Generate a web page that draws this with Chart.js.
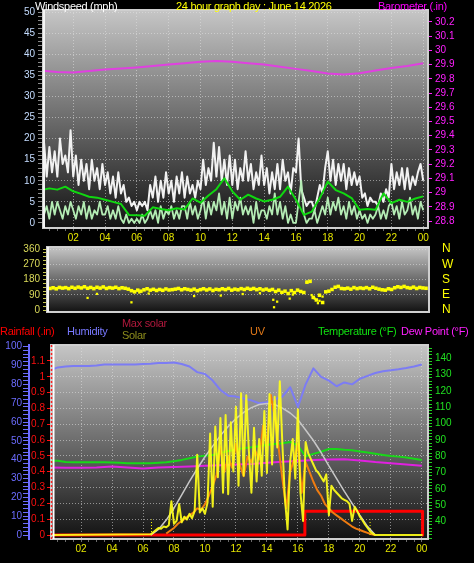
<!DOCTYPE html>
<html>
<head>
<meta charset="utf-8">
<script src="https://cdn.jsdelivr.net/npm/chart.js@4.4.1/dist/chart.umd.min.js"></script>
<style>
  html, body { margin: 0; padding: 0; background: #000; }
  #wrap { position: relative; width: 474px; height: 563px; overflow: hidden; background: #000;
          font-family: 'Liberation Sans', Arial, sans-serif; }
  #wrap canvas { position: absolute; left: 0; }
  .lbl { position: absolute; font-size: 11px; line-height: 12px; white-space: nowrap; z-index: 2; letter-spacing: -0.3px; }
</style>
</head>
<body>
<div id="wrap">
  <canvas id="windChart" width="474" height="245" style="top:0"></canvas>
  <canvas id="dirChart" width="474" height="85" style="top:236px"></canvas>
  <canvas id="sunChart" width="474" height="233" style="top:330px"></canvas>

  <span class="lbl" style="left:35px;top:0;color:#fff">Windspeed (mph)</span>
  <span class="lbl" style="left:176px;top:0;color:#ffff00">24 hour graph day : June 14 2026</span>
  <span class="lbl" style="left:378px;top:0;color:#ff00ff">Barometer (.in)</span>

  <span class="lbl" style="left:0;top:325px;color:#ff0000">Rainfall (.in)</span>
  <span class="lbl" style="left:67px;top:325px;color:#7878ff">Humidity</span>
  <span class="lbl" style="left:122px;top:317px;color:#b0183c">Max solar</span>
  <span class="lbl" style="left:122px;top:329px;color:#8c8c1c">Solar</span>
  <span class="lbl" style="left:250px;top:325px;color:#e07818">UV</span>
  <span class="lbl" style="left:318px;top:325px;color:#10e010">Temperature (°F)</span>
  <span class="lbl" style="left:401px;top:325px;color:#ff20ff">Dew Point (°F)</span>
</div>

<script>
// ---- data ----

// wind, one reading every 10 min from 00:00 (mph)
const gustMph = [
  13, 19, 11, 18, 12, 17,  11, 20, 14, 16, 12, 22,  11, 16, 9, 15, 10, 14,
  8, 15, 10, 13, 8, 14,  9, 12, 7, 11, 6, 12,  7, 9, 5, 6, 4, 5,
  3, 5, 4, 5, 3, 9,  6, 11, 5, 10, 6, 12,  7, 10, 5, 11, 7, 12,
  6, 11, 7, 9, 6, 10,  8, 15, 9, 13, 10, 19,  11, 18, 10, 15, 9, 16,
  9, 15, 8, 13, 10, 17,  10, 14, 8, 12, 9, 16,  9, 13, 7, 12, 8, 14,
  8, 15, 10, 12, 7, 13,  12, 20, 8, 6, 4, 5,  5, 3, 6, 9, 7, 13,
  17, 10, 15, 9, 14, 10,  14, 8, 13, 9, 12, 9,  11, 6, 7, 4, 6, 5,
  5, 4, 7, 5, 8, 6,  14, 8, 12, 9, 13, 8,  13, 8, 11, 9, 12, 14,  10
];
const windMph = [
  5, 2, 4, 1, 5, 2,  5, 3, 1, 4, 2, 5,  3, 1, 4, 2, 5, 1,
  4, 1, 3, 2, 5, 2,  2, 4, 1, 3, 1, 4,  1, 0, 2, 0, 1, 0,
  1, 0, 2, 0, 1, 3,  1, 3, 0, 4, 1, 3,  2, 4, 1, 3, 1, 4,
  4, 1, 5, 2, 4, 1,  3, 6, 1, 5, 2, 5,  3, 7, 2, 5, 1, 6,
  1, 5, 3, 6, 2, 4,  2, 4, 0, 5, 1, 3,  3, 1, 4, 2, 7, 2,
  5, 1, 4, 0, 2, 0,  0, 5, 10, 2, 0, 1,  1, 3, 0, 2, 4, 2,
  6, 2, 5, 3, 6, 2,  4, 1, 5, 2, 4, 1,  3, 1, 2, 0, 2, 1,
  2, 4, 1, 3, 1, 4,  5, 2, 4, 1, 5, 2,  3, 6, 2, 4, 1, 5,  3
];
// average wind, every 30 min
const avgMph = [
  7.8, 8.2, 7.9, 8.6, 7.5, 6.9, 6.2, 6.0, 5.5, 5.0, 4.5, 1.9, 1.8, 1.7, 3.7, 3.3,
  3.0, 3.5, 3.2, 5.8, 4.8, 6.5, 8.0, 10.6, 7.5, 5.5, 6.7, 5.8, 5.1, 5.5, 6.2, 8.6,
  5.5, 1.9, 2.7, 5.9, 9.8, 7.8, 7.0, 5.9, 3.1, 3.3, 3.1, 7.0, 4.7, 5.5, 5.0, 5.8, 6.3
];
// barometer, hourly (in)
const baroIn = [
  29.857, 29.848, 29.845, 29.855, 29.865, 29.872, 29.88, 29.89, 29.9, 29.91, 29.92, 29.925,
  29.92, 29.91, 29.9, 29.885, 29.87, 29.855, 29.838, 29.83, 29.84, 29.858, 29.876, 29.89, 29.91
];

// wind direction every 12 min (deg) plus stray readings [hour, deg]
const dirDeg = [
  128, 132, 126, 134, 130,  133, 127, 135, 129, 136,  131, 138, 129, 134, 127,
  135, 130, 137, 128, 133,  130, 135, 127, 132, 129,  124, 115, 108, 118, 112,
  120, 126, 118, 123, 116,  122, 117, 125, 119, 121,  124, 128, 120, 126, 122,
  118, 124, 115, 121, 126,  119, 125, 116, 123, 120,  126, 121, 128, 118, 124,
  120, 127, 122, 129, 123,  128, 121, 126, 119, 124,  117, 122, 110, 118, 105,
  112, 98, 115, 104, 118,  110, 104, 165, 170, 75,  60, 88, 45, 108, 112,
  122, 135, 140, 128, 126,  130, 124, 133, 127, 131,  128, 133, 126, 135, 129,
  124, 120, 118, 126, 122,  132, 138, 134, 140, 133,  130, 136, 128, 134, 131, 129
];
const dirStrays = [
  [2.4, 72], [3.0, 96], [5.2, 46], [5.7, 104], [6.3, 98], [9.2, 83], [10.9, 86],
  [12.3, 95], [13.4, 100], [14.25, 61], [14.3, 17], [14.5, 50], [14.8, 105],
  [15.3, 68], [15.5, 92], [16.4, 167], [16.7, 89], [16.9, 68], [17.1, 41], [17.2, 55], [17.4, 80]
];

// humidity (%) and temperature (F) every 30 min, dew point hourly
const humidityPct = [
  87.5, 89, 89.5, 89.8, 89.8, 89.8, 90, 90.6, 90.6, 90.6, 90.6, 90.6, 90.8, 91, 91.3, 91.3,
  91.6, 90.8, 89.5, 86.5, 85.5, 82, 77, 74, 73.5, 72.5, 71.5, 70, 70.5, 72, 73.5, 78.5,
  68, 80, 88.5, 84, 82, 79, 81, 80, 83, 84.5, 86, 87, 87.5, 88, 88.7, 89.5, 90.5
];
const tempF = [
  77.3, 77.3, 76.5, 76.3, 76.3, 76.3, 76.3, 76.3, 76.2, 76, 75.7, 75.7, 75.7, 75.8, 76, 76.3,
  77, 77.8, 78.8, 79.8, 80.3, 80.8, 82, 83.2, 84.2, 85, 85.5, 86.2, 87, 87.5, 88, 88.8,
  86.5, 80, 81.5, 82.8, 84.5, 84.5, 84, 83.7, 83, 82.3, 81.5, 80.8, 80.2, 79.8, 79.2, 78.5, 77.8
];
const dewF = [
  73.2, 73, 73, 73.2, 73.8, 73.2, 72.6, 73.2, 73.5, 73.8, 74.2, 74.5, 75,
  75.3, 76, 76.6, 77.2, 77.8, 78, 78.2, 77.5, 76.5, 75.8, 75, 74.2
];
// rainfall total (in)
const rainHours = [0, 16.45, 16.45, 24.05, 24.05];
const rainIn = [0, 0, 0.15, 0.15, 0];

// max solar every 30 min from 06:30 (W/m2)
const maxSolarW = [
  0, 40, 106, 190, 285, 380, 470, 555, 630, 705, 770, 825, 870, 903, 925,
  933, 925, 900, 865, 818, 745, 670, 585, 490, 400, 310, 225, 140, 60, 0
];
// solar every 10 min from 06:30 (W/m2), zero outside
const solarW = [
  5, 20, 35, 50, 45, 60, 55, 70, 240, 80, 100, 220, 90, 130, 110, 150, 120, 170, 570, 160,
  190, 150, 230, 720, 200, 770, 410, 830, 300, 850, 290, 800, 450, 910, 350, 1005, 420, 990, 600, 300,
  760, 380, 680, 420, 880, 440, 1000, 500, 980, 620, 1090, 640, 250, 40, 520, 680, 400, 890, 300, 100,
  660, 580, 540, 500, 460, 440, 410, 380, 430, 140, 350, 320, 300, 280, 260, 250, 240, 220, 100, 200,
  170, 130, 105, 75, 50, 25, 10, 0
];
// UV index every 15 min from 07:30
const uvIndex = [
  0.1, 0.3, 0.5, 0.8, 1.0, 1.2, 1.4, 1.6, 1.9, 1.8, 2.2, 2.8, 3.5, 4.3, 6.3, 4.5, 5.6, 4.8, 6.5, 5.0,
  4.2, 5.6, 5.2, 6.0, 5.4, 7.8, 6.5, 10.0, 8.5, 6.3, 4.0, 1.9, 4.5, 5.4, 6.5, 3.0, 5.2, 4.5, 3.8, 3.2,
  2.8, 2.2, 1.9, 1.6, 1.4, 1.2, 1.0, 0.8, 0.6, 0.45, 0.35, 0.25, 0.15, 0.05, 0
];
// sunrise / sunset markers (hour) and their height (W/m2)
const sunMarks = [6.55, 20.66];
const sunMarkW = 110;

// ---- helpers ----
const GRID = 'rgba(225,225,225,0.55)';

Chart.defaults.font.family = "'Liberation Sans', Arial, sans-serif";
Chart.defaults.font.size = 10;
Chart.defaults.animation = false;
Chart.defaults.responsive = false;
Chart.defaults.events = [];
Chart.defaults.plugins.legend.display = false;
Chart.defaults.plugins.tooltip.enabled = false;
Chart.defaults.elements.point.radius = 0;
Chart.defaults.elements.line.tension = 0;
Chart.defaults.elements.line.borderJoinStyle = 'round';

const range = (from, to, step) => {
  const out = [];
  for (let v = from; v <= to + 1e-9; v += step) out.push(Math.round(v * 1000) / 1000);
  return out;
};
const series = (values, start, step) => values.map((y, i) => ({ x: start + i * step, y }));
const pairs = (xs, ys) => xs.map((x, i) => ({ x, y: ys[i] }));
const isMult = (v, m) => Math.abs(v / m - Math.round(v / m)) < 1e-6;
const fixedTicks = values => scale => { scale.ticks = values.map(value => ({ value })); };
const fixedWidth = w => scale => { scale.width = w; };
const fixedHeight = h => scale => { scale.height = h; };
const hourLabel = v => (isMult(v, 2) && v > 0) ? String(v % 24).padStart(2, '0') : '';

// gradient plot background + light frame
const panelFrame = {
  id: 'panelFrame',
  beforeDraw(chart) {
    const { ctx, chartArea: a } = chart;
    const g = ctx.createLinearGradient(0, a.top, 0, a.bottom);
    g.addColorStop(0, '#c6c6c6');
    g.addColorStop(1, '#121212');
    ctx.save();
    ctx.fillStyle = g;
    ctx.fillRect(a.left, a.top, a.width, a.height);
    ctx.restore();
  },
  afterDatasetsDraw(chart, args, opts) {
    const { ctx, chartArea: a } = chart;
    ctx.save();
    ctx.strokeStyle = '#cfcfcf';
    ctx.lineWidth = 2;
    ctx.strokeRect(a.left, a.top, a.width, a.height);
    if (opts.rainEdge) {
      ctx.strokeStyle = '#ffffff';
      ctx.beginPath(); ctx.moveTo(a.left + 2.5, a.top); ctx.lineTo(a.left + 2.5, a.bottom); ctx.stroke();
      ctx.strokeStyle = '#ff2020';
      ctx.lineWidth = 1.5;
      ctx.setLineDash([2, 2]);
      ctx.beginPath(); ctx.moveTo(a.left + 0.5, a.top); ctx.lineTo(a.left + 0.5, a.bottom); ctx.stroke();
    } else {
      ctx.strokeStyle = '#f4f4f4';
      ctx.beginPath(); ctx.moveTo(a.left + 1, a.top); ctx.lineTo(a.left + 1, a.bottom); ctx.stroke();
    }
    ctx.restore();
  }
};

function hourAxis(min, max, height) {
  return {
    type: 'linear', min, max,
    afterBuildTicks: fixedTicks(range(0.5, 24, 0.5)),
    afterFit: fixedHeight(height),
    ticks: { autoSkip: false, maxRotation: 0, color: '#e6e600', padding: 1, callback: hourLabel },
    grid: {
      color: c => (c.tick && isMult(c.tick.value, 2)) ? GRID : 'transparent',
      tickColor: '#6a6a6a', tickLength: 3
    },
    border: { display: false, dash: [1, 2] }
  };
}

// ---- windspeed / barometer ----
new Chart(document.getElementById('windChart'), {
  type: 'line',
  data: {
    datasets: [
      { data: series(avgMph, 0, 0.5), borderColor: '#10d810', borderWidth: 2, yAxisID: 'y' },
      { data: series(windMph, 0, 1 / 6), borderColor: '#b4ecb4', borderWidth: 1.8, yAxisID: 'y' },
      { data: series(gustMph, 0, 1 / 6), borderColor: '#f2f2f2', borderWidth: 2, yAxisID: 'y' },
      { data: series(baroIn, 0, 1), borderColor: '#e040e0', borderWidth: 2, yAxisID: 'baro' }
    ]
  },
  options: {
    layout: { padding: { top: 10 } },
    scales: {
      x: hourAxis(0.1, 24.3, 17),
      y: {
        position: 'left', min: -1.2, max: 50.5,
        afterBuildTicks: fixedTicks(range(0, 50, 1)),
        afterFit: fixedWidth(43),
        ticks: { autoSkip: false, color: '#c4dcff', padding: 3, callback: v => isMult(v, 5) ? String(v) : '' },
        grid: {
          color: c => (c.tick && isMult(c.tick.value, 5) && c.tick.value > 0) ? GRID : 'transparent',
          tickColor: '#8a8a8a', tickLength: 5
        },
        border: { display: false, dash: [1, 2] }
      },
      baro: {
        position: 'right', min: 28.751, max: 30.284,
        afterBuildTicks: fixedTicks(range(28.8, 30.2, 0.1)),
        afterFit: fixedWidth(46),
        ticks: { autoSkip: false, color: '#ff20ff', padding: 3, callback: v => String(Math.round(v * 10) / 10) },
        grid: { drawOnChartArea: false, tickColor: '#ff20ff', tickLength: 4 },
        border: { color: '#ff20ff', width: 1 }
      }
    },
    plugins: { panelFrame: {} }
  },
  plugins: [panelFrame]
});

// ---- wind direction ----
new Chart(document.getElementById('dirChart'), {
  type: 'scatter',
  data: {
    datasets: [
      { data: series(dirDeg, 0, 0.2), pointStyle: 'rect', pointRadius: 2.5, borderWidth: 0,
        backgroundColor: '#ffff00', yAxisID: 'y' },
      { data: dirStrays.map(([x, y]) => ({ x, y })), pointStyle: 'rect', pointRadius: 1.6, borderWidth: 0,
        backgroundColor: '#ffff00', yAxisID: 'y' }
    ]
  },
  options: {
    layout: { padding: { top: 11, bottom: 5 } },
    scales: {
      x: { type: 'linear', display: false, min: -0.19, max: 24.19 },
      y: {
        position: 'left', min: -11.1, max: 372.8,
        afterBuildTicks: fixedTicks(range(0, 360, 22.5)),
        afterFit: fixedWidth(47),
        ticks: { autoSkip: false, color: '#dada5a', padding: 3, callback: v => isMult(v, 90) ? String(v) : '' },
        grid: {
          color: c => (c.tick && isMult(c.tick.value, 90) && c.tick.value > 0) ? GRID : 'transparent',
          tickColor: '#c8c850', tickLength: 4
        },
        border: { display: false, dash: [1, 2] }
      },
      compass: {
        position: 'right', min: -11.1, max: 372.8,
        afterBuildTicks: fixedTicks([0, 90, 180, 270, 360]),
        afterFit: fixedWidth(45),
        ticks: { autoSkip: false, color: '#ffff00', padding: 0, font: { size: 12 },
                 callback: v => ({ 0: 'N', 90: 'E', 180: 'S', 270: 'W', 360: 'N' })[v] },
        grid: { drawOnChartArea: false, tickLength: 13, tickColor: 'transparent' },
        border: { display: false }
      }
    },
    plugins: { panelFrame: {} }
  },
  plugins: [panelFrame]
});

// ---- rain / humidity / solar / uv / temperature ----
const solarLine = [{ x: 0, y: 0 }, ...series(solarW, 6.5, 1 / 6), { x: 24.05, y: 0 }];
const sunMarkSets = sunMarks.map(h => ({
  data: [{ x: h, y: 0 }, { x: h, y: sunMarkW }], borderColor: '#ffff00', borderWidth: 1,
  borderDash: [1, 2], yAxisID: 'solar'
}));

new Chart(document.getElementById('sunChart'), {
  type: 'line',
  data: {
    datasets: [
      ...sunMarkSets,
      { data: solarLine, borderColor: 'rgba(255,255,24,0.92)', borderWidth: 2, yAxisID: 'solar' },
      { data: series(uvIndex, 7.5, 0.25), borderColor: '#f07c10', borderWidth: 2, yAxisID: 'uv' },
      { data: series(maxSolarW, 6.5, 0.5), borderColor: '#c8c8c8', borderWidth: 1.5, yAxisID: 'solar' },
      { data: series(tempF, 0, 0.5), borderColor: '#18d818', borderWidth: 2, yAxisID: 'temp' },
      { data: series(dewF, 0, 1), borderColor: '#e020e0', borderWidth: 2, yAxisID: 'temp' },
      { data: series(humidityPct, 0, 0.5), borderColor: '#7c7cf4', borderWidth: 2, yAxisID: 'hum' },
      { data: pairs(rainHours, rainIn), borderColor: '#ff0000', borderWidth: 3, yAxisID: 'rain' }
    ]
  },
  options: {
    layout: { padding: { top: 15 } },
    scales: {
      x: hourAxis(0.06, 24.4, 24),
      hum: {
        position: 'left', weight: 1, min: -2.12, max: 100.9,
        afterBuildTicks: fixedTicks(range(0, 100, 2)),
        afterFit: fixedWidth(29),
        ticks: { autoSkip: false, color: '#6c6cff', padding: 1, callback: v => isMult(v, 10) ? String(v) : '' },
        grid: { drawOnChartArea: false, tickColor: '#6c6cff', tickLength: 6 },
        border: { color: '#6c6cff', width: 2 }
      },
      rain: {
        position: 'left', weight: 0, min: -0.025, max: 1.201,
        afterBuildTicks: fixedTicks(range(0, 1.1, 0.1)),
        afterFit: fixedWidth(22),
        ticks: { autoSkip: false, color: '#ff1010', padding: 2, callback: v => String(Math.round(v * 10) / 10) },
        grid: {
          color: c => (c.tick && c.tick.value > 0) ? GRID : 'transparent',
          tickColor: '#ff1010', tickLength: 4
        },
        border: { display: false, dash: [1, 2] }
      },
      temp: {
        position: 'right', min: 29.4, max: 148.1,
        afterBuildTicks: fixedTicks(range(30, 146, 2)),
        afterFit: fixedWidth(46),
        ticks: { autoSkip: false, color: '#20e020', padding: 3,
                 callback: v => (isMult(v, 10) && v >= 40 && v <= 140) ? String(v) : '' },
        grid: { drawOnChartArea: false, tickColor: '#20d020', tickLength: 4 },
        border: { color: '#20d020', width: 1 }
      },
      solar: { display: false, min: -28, max: 1347 },
      uv: { display: false, min: -0.29, max: 13.57 }
    },
    plugins: { panelFrame: { rainEdge: true } }
  },
  plugins: [panelFrame]
});
</script>
</body>
</html>
